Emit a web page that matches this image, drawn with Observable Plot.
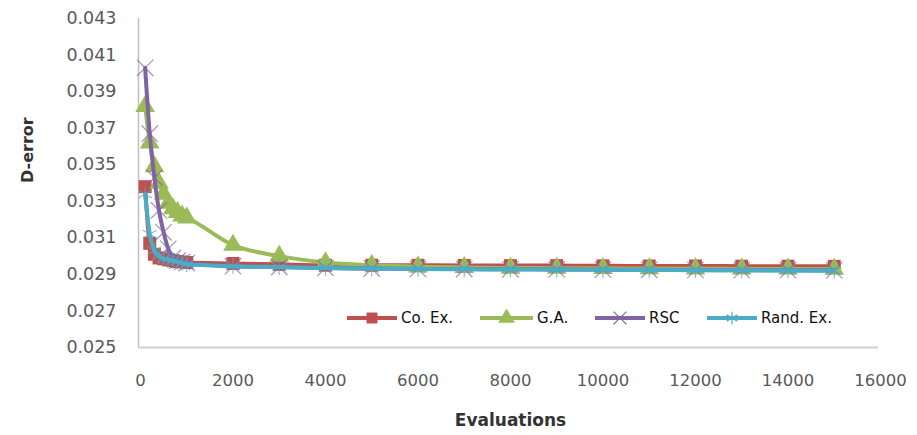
<!DOCTYPE html>
<html>
<head>
<meta charset="utf-8">
<script src="https://cdn.jsdelivr.net/npm/d3@7"></script>
<script src="https://cdn.jsdelivr.net/npm/@observablehq/plot@0.6"></script>
<style>
  html, body { margin: 0; padding: 0; background: #fff; }
  #wrap { position: relative; width: 917px; height: 435px; font-family: "DejaVu Sans", sans-serif; }
  .leg { position: absolute; top: 309px; height: 18px; display: flex; align-items: center; font-size: 15px; color: #111; }
  .leg svg { display: block; margin-right: 4px; }
</style>
</head>
<body>
<div id="wrap"></div>
<script>
const evaluations = [100, 200, 300, 400, 500, 600, 700, 800, 900, 1000,
  2000, 3000, 4000, 5000, 6000, 7000, 8000, 9000, 10000, 11000, 12000, 13000, 14000, 15000];

const coEx = [0.0338, 0.0307, 0.0301, 0.0299, 0.02985, 0.0298, 0.02975, 0.0297, 0.02968, 0.02965,
  0.0296, 0.02955, 0.0295, 0.0295, 0.0295, 0.02949, 0.02948, 0.02948, 0.02947, 0.02946, 0.02946, 0.02945, 0.02945, 0.02944];
const gaVals = [0.0382, 0.0362, 0.0349, 0.0340, 0.0334, 0.0329, 0.0326, 0.0324, 0.0322, 0.0321,
  0.0306, 0.0300, 0.02965, 0.0295, 0.02942, 0.02938, 0.02935, 0.02934, 0.02933, 0.02932, 0.02931, 0.0293, 0.0293, 0.02929];
const rsc = [0.0403, 0.0367, 0.0343, 0.0325, 0.0313, 0.0304, 0.0299, 0.02975, 0.02968, 0.02962,
  0.02945, 0.0294, 0.02935, 0.02932, 0.0293, 0.02929, 0.02928, 0.02927, 0.02926, 0.02925, 0.02924, 0.02923, 0.02923, 0.02922];
const randEx = [0.0334, 0.0312, 0.0303, 0.0300, 0.02985, 0.0298, 0.02975, 0.0297, 0.02962, 0.02955,
  0.02945, 0.0294, 0.02935, 0.02932, 0.0293, 0.02928, 0.02927, 0.02926, 0.02925, 0.02924, 0.02923, 0.02922, 0.02921, 0.0292];

const seriesNames = ["Co. Ex.", "G.A.", "RSC", "Rand. Ex."];
const seriesValues = [coEx, gaVals, rsc, randEx];
const seriesColors = ["#C0504D", "#9BBB59", "#8064A2", "#4BACC6"];
const seriesSymbols = ["square", "triangle", "times", "asterisk"];

const xTicks = [0, 2000, 4000, 6000, 8000, 10000, 12000, 14000, 16000];
const yTicks = [0.025, 0.027, 0.029, 0.031, 0.033, 0.035, 0.037, 0.039, 0.041, 0.043];

const seriesData = seriesNames.map((name, i) =>
  evaluations.map((e, j) => ({ series: name, x: e, y: seriesValues[i][j] })));

const marks = [
  Plot.ruleX([0], { stroke: "#bfbfbf", strokeWidth: 1.5, dx: -2 }),
  Plot.ruleY([0.025], { stroke: "#d0d0d0", strokeWidth: 2, dx: -2 }),
  Plot.axisY({ ticks: yTicks, tickSize: 0, tickPadding: 24, tickFormat: d3.format(".3f"), label: null, fontSize: 17.5, fill: "#595959" }),
  Plot.axisX({ ticks: xTicks, tickSize: 0, tickPadding: 27, tickFormat: d => String(d), label: null, fontSize: 16.5, fill: "#595959" }),
  Plot.text(["Evaluations"], { frameAnchor: "bottom", dy: 78, fontSize: 17, fontWeight: "bold", fill: "#333" }),
  Plot.text(["D-error"], { frameAnchor: "left", dx: -113, rotate: -90, fontSize: 16, fontWeight: "bold", fill: "#333" })
];

seriesData.forEach((data, i) => {
  const color = seriesColors[i];
  marks.push(Plot.line(data, { x: "x", y: "y", stroke: color, strokeWidth: 4, curve: "monotone-x" }));
  const sym = seriesSymbols[i];
  if (sym === "square" || sym === "triangle") {
    marks.push(Plot.dot(data, { x: "x", y: "y", symbol: sym, r: 7.3, fill: color, stroke: "none" }));
  } else {
    marks.push(Plot.dot(data, { x: "x", y: "y", symbol: sym, r: 7.5, stroke: color, strokeWidth: 1.2, strokeOpacity: 0.7, fill: "none" }));
  }
});

const chart = Plot.plot({
  width: 917,
  height: 435,
  marginLeft: 140,
  marginRight: 37,
  marginTop: 18,
  marginBottom: 88,
  style: { fontFamily: "'DejaVu Sans', sans-serif", background: "#fff" },
  x: { domain: [0, 16000] },
  y: { domain: [0.025, 0.043] },
  marks
});

const wrap = document.getElementById("wrap");
wrap.appendChild(chart);

// legend
const legendLeft = [347, 480, 595, 707];
const legendWidth = [50, 53, 50, 50];
seriesNames.forEach((name, i) => {
  const div = document.createElement("div");
  div.className = "leg";
  div.style.left = legendLeft[i] + "px";
  const w = legendWidth[i];
  const svg = d3.create("svg").attr("width", w).attr("height", 18);
  svg.append("line").attr("x1", 0).attr("x2", w).attr("y1", 9).attr("y2", 9)
    .attr("stroke", seriesColors[i]).attr("stroke-width", 4).attr("stroke-linecap", "round");
  const symMap = { square: d3.symbolSquare, triangle: d3.symbolTriangle, times: d3.symbolTimes, asterisk: d3.symbolAsterisk };
  const filled = seriesSymbols[i] === "square" || seriesSymbols[i] === "triangle";
  svg.append("path")
    .attr("transform", `translate(${w / 2},9)`)
    .attr("d", d3.symbol(symMap[seriesSymbols[i]], filled ? 120 : 110)())
    .attr("fill", filled ? seriesColors[i] : "none")
    .attr("stroke", filled ? "none" : seriesColors[i])
    .attr("stroke-width", 1.2);
  div.appendChild(svg.node());
  const span = document.createElement("span");
  span.textContent = name;
  div.appendChild(span);
  wrap.appendChild(div);
});
</script>
</body>
</html>
